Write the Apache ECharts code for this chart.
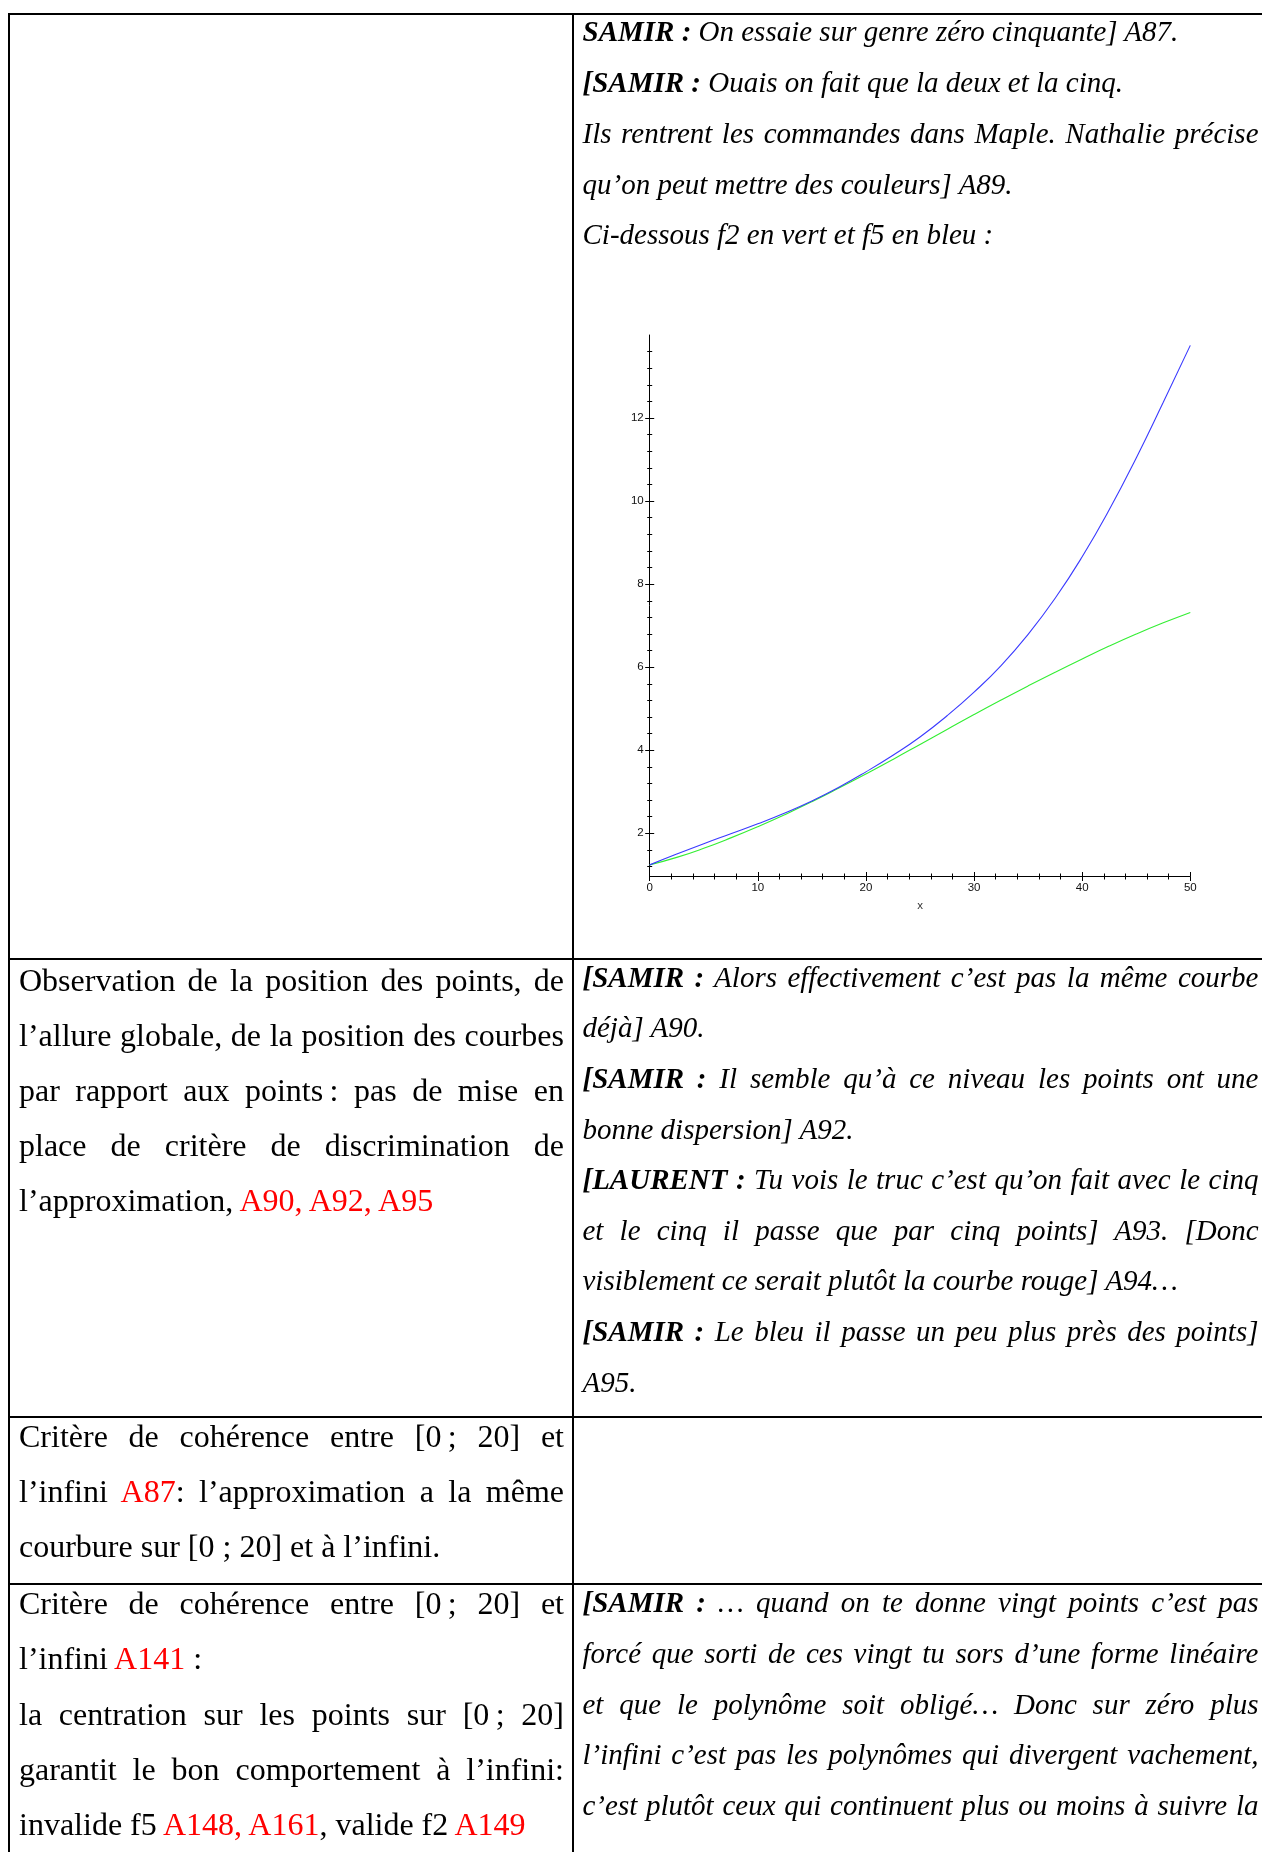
<!DOCTYPE html>
<html>
<head>
<meta charset="utf-8">
<script src="https://cdn.jsdelivr.net/npm/echarts@6/dist/echarts.min.js"></script>
<style>
  html, body { margin:0; padding:0; background:#fff; }
  body { width:1262px; height:1852px; position:relative; overflow:hidden; }
  #chart { position:absolute; left:0; top:0; width:1262px; height:1852px; z-index:0; }
  .ln { position:absolute; white-space:pre; font-family:'Liberation Serif','Times New Roman',serif; color:#000; z-index:2; }
  .ln b { font-weight:bold; }
  .red { color:#ff0000; }
  .rule { position:absolute; background:#000; z-index:3; }
</style>
</head>
<body>
<div id="chart"></div>
<script>
// ---------- chart data ----------
const xValues = [0, 2.5, 5, 7.5, 10, 12.5, 15, 17.5, 20, 22.5, 25, 27.5, 30, 32.5, 35, 37.5, 40, 42.5, 45, 47.5, 50];
const f5Values = [1.24, 1.50, 1.75, 1.99, 2.23, 2.49, 2.78, 3.11, 3.48, 3.88, 4.32, 4.83, 5.40, 6.04, 6.79, 7.66, 8.66, 9.79, 11.04, 12.38, 13.75];
const f2Values = [1.24, 1.42, 1.64, 1.89, 2.16, 2.45, 2.76, 3.09, 3.43, 3.78, 4.14, 4.50, 4.86, 5.21, 5.55, 5.88, 6.20, 6.51, 6.80, 7.07, 7.32];
const yTickLabels = [2, 4, 6, 8, 10, 12];
const xAxisName = 'x';

// ---------- table text ----------
const row1Right = [
  ['**SAMIR :** On essaie sur genre zéro cinquante] A87.', false],
  ['**[SAMIR :** Ouais on fait que la deux et la cinq.', false],
  ['Ils rentrent les commandes dans Maple. Nathalie précise', true],
  ['qu’on peut mettre des couleurs] A89.', false],
  ['Ci-dessous f2 en vert et f5 en bleu :', false]
];
const row2Left = [
  ['Observation de la position des points, de', true],
  ['l’allure globale, de la position des courbes', true],
  ['par rapport aux points\u202F: pas de mise en', true],
  ['place de critère de discrimination de', true],
  ['l’approximation, {A90, A92, A95}', false]
];
const row2Right = [
  ['**[SAMIR :** Alors effectivement c’est pas la même courbe', true],
  ['déjà] A90.', false],
  ['**[SAMIR :** Il semble qu’à ce niveau les points ont une', true],
  ['bonne dispersion] A92.', false],
  ['**[LAURENT :** Tu vois le truc c’est qu’on fait avec le cinq', true],
  ['et le cinq il passe que par cinq points] A93. [Donc', true],
  ['visiblement ce serait plutôt la courbe rouge] A94…', false],
  ['**[SAMIR :** Le bleu il passe un peu plus près des points]', true],
  ['A95.', false]
];
const row3Left = [
  ['Critère de cohérence entre [0\u202F; 20] et', true],
  ['l’infini {A87}: l’approximation a la même', true],
  ['courbure sur [0 ; 20] et à l’infini.', false]
];
const row4Left = [
  ['Critère de cohérence entre [0\u202F; 20] et', true],
  ['l’infini {A141} :', false],
  ['la centration sur les points sur [0\u202F; 20]', true],
  ['garantit le bon comportement à l’infini:', true],
  ['invalide f5 {A148, A161}, valide f2 {A149}', false]
];
const row4Right = [
  ['**[SAMIR :** … quand on te donne vingt points c’est pas', true],
  ['forcé que sorti de ces vingt tu sors d’une forme linéaire', true],
  ['et que le polynôme soit obligé… Donc sur zéro plus', true],
  ['l’infini c’est pas les polynômes qui divergent vachement,', true],
  ['c’est plutôt ceux qui continuent plus ou moins à suivre la', true]
];

// ---------- layout helpers ----------
function esc(s){ return s.replace(/&/g,'&amp;').replace(/</g,'&lt;'); }
function parse(t){
  return t.split(/(\*\*.*?\*\*|\{.*?\})/).map(p => {
    if (p.startsWith('**')) return '<b>' + esc(p.slice(2, -2)) + '</b>';
    if (p.startsWith('{')) return '<span class="red">' + esc(p.slice(1, -1)) + '</span>';
    return esc(p);
  }).join('');
}
function block(lines, x, right, base0, step, size, italic){
  lines.forEach((ln, i) => {
    const d = document.createElement('div');
    d.className = 'ln';
    d.style.left = x + 'px';
    d.style.top = (base0 + i * step - 0.8375 * size) + 'px';
    d.style.fontSize = size + 'px';
    d.style.lineHeight = size + 'px';
    d.style.fontStyle = italic ? 'italic' : 'normal';
    d.innerHTML = parse(ln[0]);
    document.body.appendChild(d);
    if (ln[1]) {
      const w = right - x;
      const nat = d.getBoundingClientRect().width;
      const spaces = (d.textContent.match(/ /g) || []).length;
      if (nat < w && spaces) d.style.wordSpacing = ((w - nat) / spaces) + 'px';
      else if (nat > w) { d.style.transformOrigin = '0 0'; d.style.transform = 'scaleX(' + (w / nat) + ')'; }
    }
  });
}
function rule(l, t, w, h){
  const r = document.createElement('div');
  r.className = 'rule';
  r.style.left = l + 'px'; r.style.top = t + 'px'; r.style.width = w + 'px'; r.style.height = h + 'px';
  document.body.appendChild(r);
}

// table rules
rule(8, 13, 1254, 2);
rule(8, 13, 2, 1839);
rule(572, 13, 2, 1839);
rule(8, 958, 1254, 2);
rule(8, 1416, 1254, 2);
rule(8, 1583, 1254, 2);

const LX = 19, LR = 564, RX = 582.5, RR = 1258.5;
block(row1Right, RX, RR, 41.5, 50.8, 29, true);
block(row2Left, LX, LR, 991, 55, 32, false);
block(row2Right, RX, RR, 987, 50.6, 29, true);
block(row3Left, LX, LR, 1447, 54.8, 32, false);
block(row4Left, LX, LR, 1613.5, 55.4, 32, false);
block(row4Right, RX, RR, 1612.5, 50.7, 29, true);

// ---------- chart ----------
const chart = echarts.init(document.getElementById('chart'), null, { renderer: 'canvas' });
const gridRect = { left: 649.7, right: 1262 - 1190.3, top: 335, bottom: 1852 - 876.5, containLabel: false };
const axisLine = { show: true, lineStyle: { color: '#000', width: 1 } };
const labelStyle = { color: '#111', fontSize: 11.5, fontFamily: 'Liberation Sans' };
const yMin = 0.96, yMax = 14;
chart.setOption({
  backgroundColor: 'transparent',
  animation: false,
  grid: [Object.assign({}, gridRect), Object.assign({}, gridRect)],
  xAxis: [
    {
      type: 'value', gridIndex: 0, min: 0, max: 50, interval: 10,
      axisLine: axisLine,
      axisTick: { show: true, length: 4.5, lineStyle: { color: '#000' } },
      minorTick: { show: true, splitNumber: 5, length: 3, lineStyle: { color: '#000' } },
      splitLine: { show: false },
      axisLabel: Object.assign({ margin: 5 }, labelStyle),
      name: xAxisName, nameLocation: 'middle', nameGap: 23,
      nameTextStyle: { color: '#333', fontSize: 11.5, fontFamily: 'Liberation Sans' }
    },
    {
      type: 'value', gridIndex: 1, min: 0, max: 50, interval: 10,
      axisLine: { show: false },
      axisTick: { show: true, inside: true, length: 4.5, lineStyle: { color: '#000' } },
      minorTick: { show: true, splitNumber: 5, length: 3, lineStyle: { color: '#000' } },
      splitLine: { show: false },
      axisLabel: { show: false }
    }
  ],
  yAxis: [
    {
      type: 'value', gridIndex: 0, min: yMin, max: yMax, splitNumber: 7,
      axisLine: axisLine,
      axisTick: { show: true, length: 4.5, customValues: yTickLabels, lineStyle: { color: '#000' } },
      minorTick: { show: true, splitNumber: 5, length: 2.5, lineStyle: { color: '#000' } },
      splitLine: { show: false },
      axisLabel: Object.assign({ margin: 6, customValues: yTickLabels }, labelStyle)
    },
    {
      type: 'value', gridIndex: 1, min: yMin, max: yMax, splitNumber: 7,
      axisLine: { show: false },
      axisTick: { show: true, inside: true, length: 4.5, customValues: yTickLabels, lineStyle: { color: '#000' } },
      minorTick: { show: true, splitNumber: 5, length: 2.5, lineStyle: { color: '#000' } },
      splitLine: { show: false },
      axisLabel: { show: false }
    }
  ],
  series: [
    {
      name: 'f2', type: 'line', xAxisIndex: 0, yAxisIndex: 0,
      data: xValues.map((x, i) => [x, f2Values[i]]),
      showSymbol: false, smooth: 0.5,
      lineStyle: { color: '#33ee33', width: 1.1 }
    },
    {
      name: 'f5', type: 'line', xAxisIndex: 0, yAxisIndex: 0,
      data: xValues.map((x, i) => [x, f5Values[i]]),
      showSymbol: false, smooth: 0.5,
      lineStyle: { color: '#3a3aff', width: 1.1 }
    }
  ]
});
</script>
</body>
</html>
